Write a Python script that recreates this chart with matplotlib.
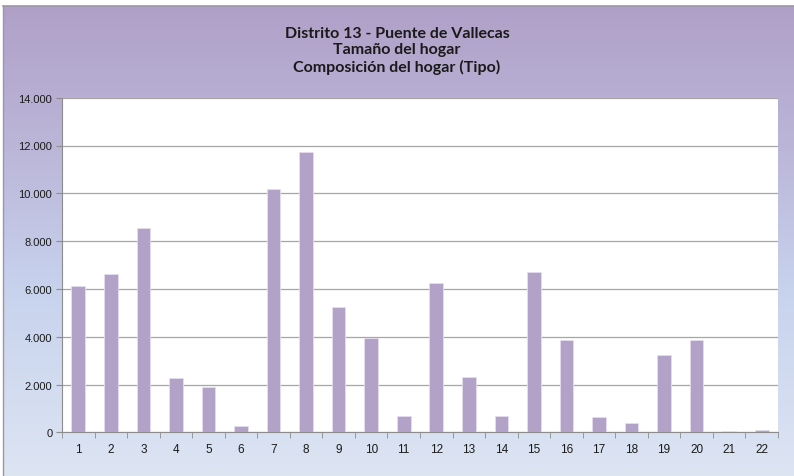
import numpy as np
import matplotlib
matplotlib.use('Agg')
import matplotlib.pyplot as plt
from matplotlib.colors import LinearSegmentedColormap
from matplotlib.ticker import FuncFormatter

plt.rcParams['font.family'] = ['Liberation Sans', 'DejaVu Sans']

# data
categories = [str(i) for i in range(1, 23)]
values = [6120, 6620, 8560, 2265, 1875, 275, 10200, 11715, 5260, 3925, 695,
          6245, 2320, 670, 6705, 3865, 640, 375, 3215, 3865, 40, 85]
title_lines = ['Distrito 13 - Puente de Vallecas', 'Tamaño del hogar',
               'Composición del hogar (Tipo)']

W, H = 794, 477
fig = plt.figure(figsize=(W / 100, H / 100), dpi=100)
fig.patch.set_facecolor('white')

# gradient background of the chart area (starts at x=3, y=7)
bg = fig.add_axes([3 / W, 0, 1 - 3 / W, (H - 7) / H], zorder=0)
cmap = LinearSegmentedColormap.from_list(
    'bg', [(0.0, '#b0a0c8'), (0.35, '#bdbadb'), (0.6, '#c7d2ed'), (1.0, '#dde5f3')])
grad = np.linspace(0, 1, 256).reshape(-1, 1)
bg.imshow(grad, aspect='auto', cmap=cmap, extent=[0, 1, 0, 1])
bg.set_xticks([])
bg.set_yticks([])
for s in ['right', 'bottom']:
    bg.spines[s].set_visible(False)
bg.spines['top'].set_color('#9c96a6')
bg.spines['left'].set_color('#9c96a6')
bg.spines['top'].set_linewidth(1.2)
bg.spines['left'].set_linewidth(1.0)

ax = fig.add_axes([62 / W, (H - 433.3) / H, (778 - 62) / W, (433.3 - 98.7) / H], zorder=1)
ax.set_facecolor('white')
x = np.arange(len(categories))
ax.bar(x, values, width=0.42, color='#b3a2c7', edgecolor='#e6def0', linewidth=0.6, zorder=3)

ax.set_xlim(-0.5, len(categories) - 0.5)
ax.set_ylim(0, 14000)
ax.set_yticks(np.arange(0, 14001, 2000))
ax.yaxis.set_major_formatter(FuncFormatter(lambda v, p: f'{int(v):,}'.replace(',', '.')))
ax.set_xticks(x)
ax.set_xticklabels(categories)
ax.set_xticks(np.arange(-0.5, len(categories), 1), minor=True)
ax.tick_params(axis='x', which='major', length=0, pad=8, labelsize=8.5, labelcolor='#1a1a1a')
ax.tick_params(axis='x', which='minor', length=4, color='#8c8c8c', direction='out')
ax.tick_params(axis='y', length=4, color='#8c8c8c', labelsize=8, labelcolor='#1a1a1a', pad=3)

ax.grid(axis='y', color='#a6a6a6', linewidth=0.9, zorder=1)
ax.set_axisbelow(True)
ax.spines['top'].set_visible(False)
ax.spines['right'].set_visible(False)
ax.spines['left'].set_color('#8c8c8c')
ax.spines['bottom'].set_color('#8c8c8c')

# title block, first line centred near y=33 px
fig.text(0.5, (H - 27) / H, '\n'.join(title_lines), ha='center', va='top',
         fontsize=11.5, fontweight='bold', family='Lato', color='#1a1a1a',
         linespacing=1.22)

fig.savefig('out.png', dpi=100)
